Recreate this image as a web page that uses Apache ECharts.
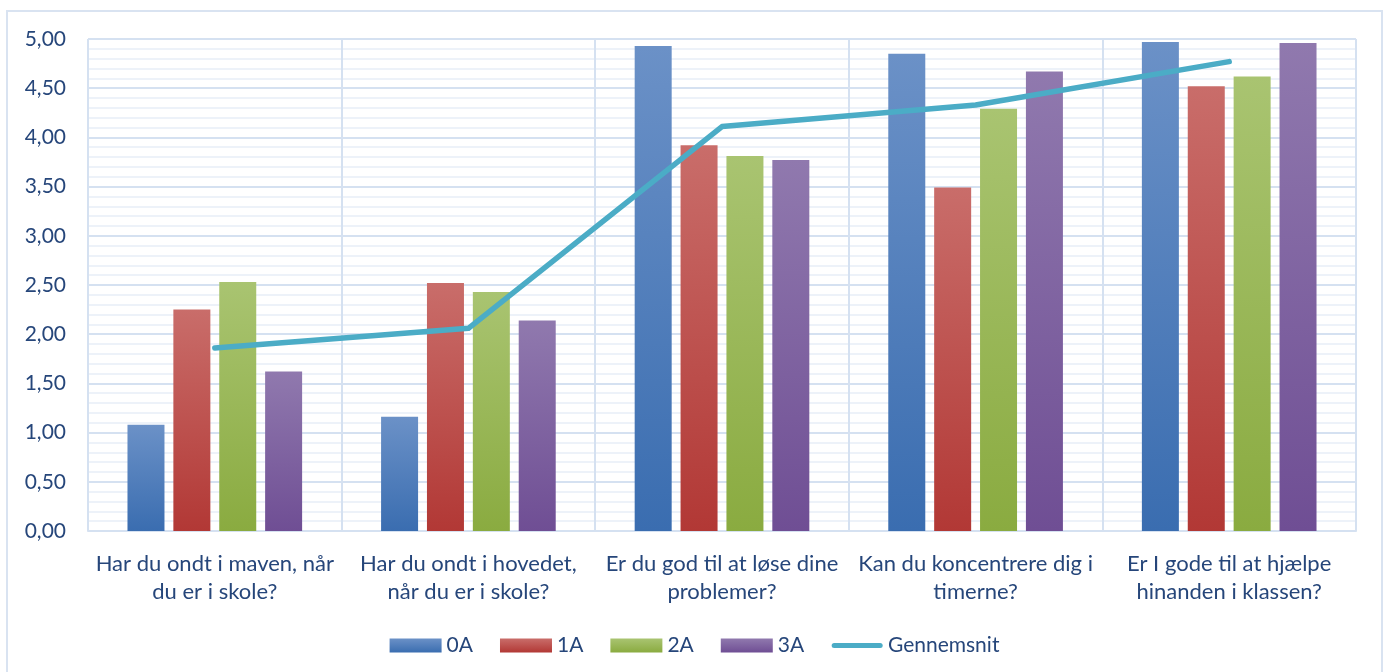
<!DOCTYPE html>
<html>
<head>
<meta charset="utf-8">
<script src="https://cdn.jsdelivr.net/npm/echarts@6/dist/echarts.min.js"></script>
<style>
html,body{margin:0;padding:0;background:#fff;}
#frame{position:absolute;left:6px;top:10px;width:1377px;height:670px;border:2px solid #d9e3f1;box-sizing:border-box;}
#chart{position:absolute;left:0;top:0;width:1389px;height:672px;}
</style>
</head>
<body>
<div id="frame"></div>
<div id="chart"></div>
<script>
const categories = [
  "Har du ondt i maven, når\ndu er i skole?",
  "Har du ondt i hovedet,\nnår du er i skole?",
  "Er du god til at løse dine\nproblemer?",
  "Kan du koncentrere dig i\ntimerne?",
  "Er I gode til at hjælpe\nhinanden i klassen?"
];
const s0A = [1.08, 1.16, 4.93, 4.85, 4.97];
const s1A = [2.25, 2.52, 3.92, 3.49, 4.52];
const s2A = [2.53, 2.43, 3.81, 4.29, 4.62];
const s3A = [1.62, 2.14, 3.77, 4.67, 4.96];
const gennemsnit = [1.86, 2.06, 4.11, 4.33, 4.77];
const seriesNames = ["0A", "1A", "2A", "3A", "Gennemsnit"];

const FONT = "Lato";
const TXT = "#26467a";
const GRID = "#d5e1f1";
const MINOR = "#edf2f9";

function grad(top, bottom) {
  return new echarts.graphic.LinearGradient(0, 0, 0, 1, [
    {offset: 0, color: top}, {offset: 1, color: bottom}
  ]);
}
const barColors = [
  grad("#6b91c7", "#3a6db0"),
  grad("#c96d6a", "#b23835"),
  grad("#a9c471", "#8aab40"),
  grad("#9079ae", "#6f4e94")
];
const barData = [s0A, s1A, s2A, s3A];

const chart = echarts.init(document.getElementById('chart'));
const series = barData.map((d, i) => ({
  name: seriesNames[i],
  type: 'bar',
  data: d,
  barWidth: 37,
  barGap: '24%',
  itemStyle: {color: barColors[i]}
}));
series.push({
  name: seriesNames[4],
  type: 'line',
  data: gennemsnit,
  symbol: 'none',
  z: 5,
  lineStyle: {color: '#4bacc6', width: 5.5, cap: 'round', join: 'round'},
  itemStyle: {color: '#4bacc6'}
});

const lineIcon = 'path://M0,0 M0,14 M3,4.5 L49,4.5 A2.5,2.5 0 0 1 49,9.5 L3,9.5 A2.5,2.5 0 0 1 3,4.5 Z';

chart.setOption({
  animation: false,
  textStyle: {fontFamily: FONT},
  grid: {left: 88, right: 33, top: 39, bottom: 141, containLabel: false,
         show: true, borderColor: GRID, borderWidth: 1},
  legend: {
    bottom: 11,
    left: 'center',
    itemWidth: 52,
    itemHeight: 14,
    itemGap: 27,
    textStyle: {fontFamily: FONT, fontSize: 21, color: TXT},
    data: [
      {name: '0A', icon: 'rect', itemStyle: {color: barColors[0]}},
      {name: '1A', icon: 'rect', itemStyle: {color: barColors[1]}},
      {name: '2A', icon: 'rect', itemStyle: {color: barColors[2]}},
      {name: '3A', icon: 'rect', itemStyle: {color: barColors[3]}},
      {name: 'Gennemsnit', icon: lineIcon, itemStyle: {color: '#4bacc6'}}
    ]
  },
  xAxis: {
    type: 'category',
    data: categories,
    boundaryGap: true,
    axisLine: {show: true, lineStyle: {color: GRID, width: 2}},
    axisTick: {show: false},
    splitLine: {show: true, lineStyle: {color: GRID, width: 2}},
    axisLabel: {fontFamily: FONT, fontSize: 22, color: TXT, margin: 19, lineHeight: 28, interval: 0}
  },
  yAxis: {
    type: 'value',
    min: 0, max: 5, interval: 0.5,
    axisLine: {show: false},
    axisTick: {show: false},
    splitLine: {show: true, lineStyle: {color: GRID, width: 2}},
    minorTick: {show: false, splitNumber: 5},
    minorSplitLine: {show: true, lineStyle: {color: MINOR, width: 2}},
    axisLabel: {fontFamily: FONT, fontSize: 21, color: TXT, margin: 22,
      formatter: v => v.toFixed(2).replace('.', ',')}
  },
  series: series
});
</script>
</body>
</html>
